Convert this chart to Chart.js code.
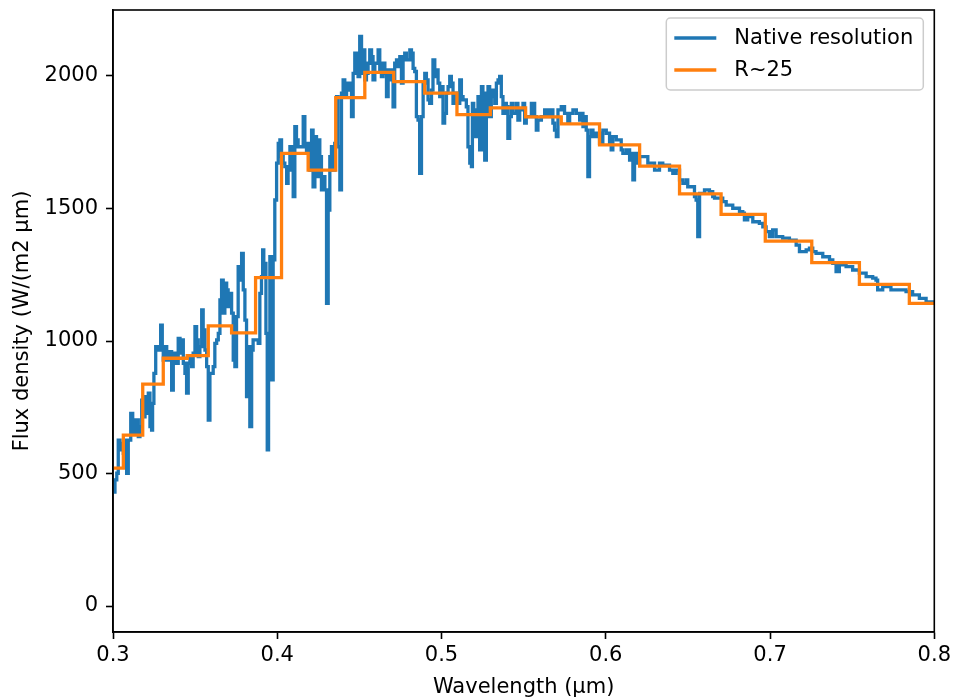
<!DOCTYPE html>
<html>
<head>
<meta charset="utf-8">
<script src="https://cdn.jsdelivr.net/npm/chart.js@4.4.1/dist/chart.umd.min.js"></script>
<style>
  html, body { margin: 0; padding: 0; background: #fff; }
  #wrap { width: 955px; height: 700px; }
</style>
</head>
<body>
<div id="wrap"><canvas id="spectrumChart" width="955" height="700"></canvas></div>
<script>
// native resolution spectrum
const nativeWavelength = [
  0.3000,0.3012,0.3023,0.3032,0.3043,0.3053,0.3063,0.3073,0.3083,0.3093,
  0.3108,0.3120,0.3128,0.3140,0.3154,0.3164,0.3175,0.3184,0.3195,0.3205,
  0.3215,0.3225,0.3235,0.3241,0.3249,0.3260,0.3280,0.3290,0.3300,0.3306,
  0.3316,0.3327,0.3336,0.3347,0.3357,0.3367,0.3377,0.3387,0.3397,0.3408,
  0.3418,0.3428,0.3438,0.3448,0.3458,0.3468,0.3479,0.3488,0.3499,0.3509,
  0.3519,0.3529,0.3540,0.3549,0.3560,0.3570,0.3580,0.3590,0.3610,0.3620,
  0.3631,0.3641,0.3651,0.3661,0.3671,0.3681,0.3692,0.3701,0.3712,0.3722,
  0.3732,0.3742,0.3752,0.3762,0.3773,0.3783,0.3793,0.3803,0.3813,0.3823,
  0.3833,0.3844,0.3853,0.3874,0.3884,0.3894,0.3904,0.3911,0.3918,0.3931,
  0.3939,0.3947,0.3955,0.3965,0.3975,0.3985,0.3996,0.4006,0.4016,0.4026,
  0.4036,0.4046,0.4057,0.4066,0.4077,0.4087,0.4097,0.4107,0.4117,0.4127,
  0.4148,0.4158,0.4168,0.4178,0.4188,0.4198,0.4209,0.4218,0.4229,0.4239,
  0.4249,0.4259,0.4269,0.4279,0.4290,0.4300,0.4310,0.4320,0.4330,0.4340,
  0.4350,0.4361,0.4370,0.4381,0.4391,0.4401,0.4411,0.4422,0.4431,0.4442,
  0.4452,0.4462,0.4472,0.4482,0.4492,0.4502,0.4513,0.4523,0.4533,0.4543,
  0.4553,0.4563,0.4574,0.4583,0.4594,0.4614,0.4624,0.4634,0.4644,0.4655,
  0.4665,0.4675,0.4695,0.4705,0.4715,0.4726,0.4735,0.4746,0.4756,0.4766,
  0.4776,0.4786,0.4807,0.4817,0.4827,0.4837,0.4847,0.4857,0.4867,0.4878,
  0.4888,0.4898,0.4908,0.4918,0.4928,0.4939,0.4948,0.4959,0.4969,0.4979,
  0.4989,0.4999,0.5009,0.5019,0.5030,0.5040,0.5050,0.5060,0.5070,0.5080,
  0.5091,0.5111,0.5121,0.5131,0.5151,0.5161,0.5172,0.5182,0.5188,0.5196,
  0.5202,0.5212,0.5222,0.5232,0.5243,0.5252,0.5263,0.5273,0.5283,0.5293,
  0.5303,0.5313,0.5324,0.5334,0.5344,0.5354,0.5364,0.5374,0.5384,0.5395,
  0.5404,0.5415,0.5425,0.5435,0.5456,0.5465,0.5476,0.5496,0.5506,0.5516,
  0.5536,0.5547,0.5567,0.5577,0.5587,0.5608,0.5628,0.5648,0.5658,0.5678,
  0.5688,0.5699,0.5709,0.5729,0.5749,0.5769,0.5780,0.5800,0.5821,0.5841,
  0.5851,0.5861,0.5871,0.5881,0.5891,0.5901,0.5912,0.5922,0.5942,0.5962,
  0.5982,0.6003,0.6023,0.6033,0.6043,0.6064,0.6094,0.6104,0.6125,0.6145,
  0.6155,0.6165,0.6175,0.6195,0.6206,0.6226,0.6246,0.6256,0.6286,0.6297,
  0.6327,0.6347,0.6388,0.6408,0.6428,0.6449,0.6469,0.6490,0.6499,0.6520,
  0.6540,0.6550,0.6560,0.6571,0.6601,0.6631,0.6651,0.6662,0.6712,0.6733,
  0.6773,0.6814,0.6834,0.6844,0.6864,0.6895,0.6935,0.6956,0.6976,0.6996,
  0.7016,0.7037,0.7077,0.7118,0.7159,0.7179,0.7199,0.7220,0.7240,0.7260,
  0.7280,0.7321,0.7362,0.7382,0.7402,0.7422,0.7463,0.7503,0.7544,0.7585,
  0.7625,0.7645,0.7655,0.7686,0.7736,0.7787,0.7828,0.7868,0.7909,0.7950,
  0.7970,0.8000
];
const nativeFlux = [
  430,476,501,626,589,614,576,626,501,626,
  727,702,652,702,639,677,777,714,790,727,
  803,677,664,765,878,979,966,1060,966,928,
  979,954,928,960,815,928,954,916,1010,954,
  1004,916,878,803,916,941,903,954,1054,1004,
  941,979,1117,1042,966,903,702,878,903,991,
  1004,1029,1155,1230,1105,1218,1193,1130,1180,1105,
  928,903,1092,1281,1230,1331,1193,1079,790,979,
  677,966,1004,1004,991,1180,1243,1344,1293,1029,
  589,903,1318,853,1306,1532,1671,1746,1759,1696,
  1671,1658,1595,1645,1733,1671,1545,1809,1759,1733,
  1733,1847,1733,1708,1746,1645,1796,1582,1771,1620,
  1759,1696,1570,1620,1570,1142,1494,1696,1733,1645,
  1746,1922,1733,1570,1935,1985,1922,1960,1973,1947,
  1847,2010,2086,2023,1998,2149,2010,2098,1985,2010,
  2048,2098,2073,1985,2048,2098,2023,1998,2048,2010,
  1922,2023,1985,1884,2048,2061,2035,2073,1973,2073,
  2086,2061,2098,2086,2029,2017,1847,1834,1633,1847,
  1973,2010,1985,1910,1897,1947,2061,1998,2023,1973,
  1922,1960,1822,1859,1935,1960,1998,1973,1897,1935,
  1897,1985,1922,1910,1884,1733,1671,1658,1897,1847,
  1771,1872,1922,1721,1960,1935,1683,1922,1960,1847,
  1922,1947,1897,1973,1985,1998,1922,1859,1897,1884,
  1765,1847,1897,1859,1897,1834,1872,1897,1822,1847,
  1847,1897,1847,1796,1834,1847,1872,1847,1872,1822,
  1796,1771,1872,1884,1859,1822,1859,1872,1859,1834,
  1859,1809,1847,1796,1620,1771,1796,1771,1784,1746,
  1796,1784,1746,1721,1771,1759,1721,1708,1721,1683,
  1708,1608,1708,1671,1696,1696,1696,1671,1671,1645,
  1671,1664,1645,1633,1645,1608,1595,1608,1582,1582,
  1545,1532,1394,1557,1570,1564,1545,1539,1526,1513,
  1501,1488,1482,1457,1469,1450,1444,1431,1413,1394,
  1419,1394,1388,1381,1362,1337,1337,1344,1350,1337,
  1331,1318,1306,1293,1262,1287,1281,1268,1256,1243,
  1237,1230,1193,1205,1193,1193,1186,1174,1161,1142,
  1148,1142
];

// R~25 binned spectrum: left edge of each bin and its value (last entry closes the final bin)
const binEdges = [
  0.3000,0.3063,0.3181,0.3306,0.3452,0.3580,0.3722,0.3868,0.4026,0.4188,
  0.4356,0.4533,0.4709,0.4898,0.5094,0.5297,0.5512,0.5729,0.5962,0.6206,
  0.6449,0.6702,0.6971,0.7254,0.7544,0.7848,0.8000
];
const binFlux = [
  520,645,837,935,945,1057,1031,1239,1708,1645,
  1918,2014,1979,1935,1854,1880,1846,1819,1740,1660,
  1555,1478,1377,1296,1214,1142,1142
];

const xTicks = [0.3, 0.4, 0.5, 0.6, 0.7, 0.8];
const yTicks = [0, 500, 1000, 1500, 2000];
const seriesNames = ['Native resolution', 'R~25'];
const seriesColors = ['#1f77b4', '#ff7f0e'];

const FONT = 'DejaVu Sans';
const FONT_SIZE = 21;

function toPoints(xs, ys) {
  return xs.map((x, i) => ({ x: x, y: ys[i] }));
}

// keep the axes box where the reference has it
const fixedArea = {
  id: 'fixedArea',
  afterLayout(chart) {
    const a = chart.chartArea;
    const dy = a.top - 10;
    if (dy !== 0) {
      a.top = 10;
      a.height = a.bottom - a.top;
      const y = chart.scales.y;
      y.top = 10;
      y.height = y.bottom - y.top;
      y.configure();
    }
  }
};

// top/right spines (matplotlib style box around the axes)
const frameBox = {
  id: 'frameBox',
  afterDatasetsDraw(chart) {
    const a = chart.chartArea;
    const ctx = chart.ctx;
    ctx.save();
    ctx.strokeStyle = '#000';
    ctx.lineWidth = 1.6;
    ctx.strokeRect(a.left, a.top, a.right - a.left, a.bottom - a.top);
    ctx.restore();
  }
};

// legend in the upper right corner, inside the axes
const cornerLegend = {
  id: 'cornerLegend',
  afterDraw(chart) {
    const a = chart.chartArea;
    const ctx = chart.ctx;
    const w = 257, h = 72;
    const x0 = a.right - 11 - w;
    const y0 = a.top + 8;
    ctx.save();
    ctx.beginPath();
    ctx.roundRect(x0, y0, w, h, 4);
    ctx.fillStyle = 'rgba(255,255,255,0.8)';
    ctx.fill();
    ctx.strokeStyle = '#cccccc';
    ctx.lineWidth = 1.5;
    ctx.stroke();

    ctx.font = FONT_SIZE + 'px "' + FONT + '"';
    ctx.textBaseline = 'middle';
    ctx.fillStyle = '#000';
    chart.data.datasets.forEach(ds => {
      const idx = seriesNames.indexOf(ds.label);
      const yy = y0 + 20 + idx * 32;
      ctx.beginPath();
      ctx.moveTo(x0 + 8, yy);
      ctx.lineTo(x0 + 50, yy);
      ctx.strokeStyle = ds.borderColor;
      ctx.lineWidth = 3.3;
      ctx.stroke();
      ctx.fillText(ds.label, x0 + 68, yy + 1);
    });
    ctx.restore();
  }
};

function renderChart() {
  const ctx = document.getElementById('spectrumChart').getContext('2d');

  new Chart(ctx, {
    type: 'line',
    data: {
      datasets: [
        {
          label: seriesNames[0],
          data: toPoints(nativeWavelength, nativeFlux),
          borderColor: seriesColors[0],
          borderWidth: 3.3,
          stepped: 'before',
          pointRadius: 0,
          fill: false,
          order: 1
        },
        {
          label: seriesNames[1],
          data: toPoints(binEdges, binFlux),
          borderColor: seriesColors[1],
          borderWidth: 3.3,
          stepped: 'before',
          pointRadius: 0,
          fill: false,
          order: 0
        }
      ]
    },
    options: {
      responsive: false,
      animation: false,
      layout: { padding: { top: 0, right: 20, left: 0, bottom: 0 } },
      plugins: {
        legend: { display: false },
        tooltip: { enabled: false }
      },
      scales: {
        x: {
          type: 'linear',
          min: 0.3,
          max: 0.8,
          afterBuildTicks: axis => { axis.ticks = xTicks.map(v => ({ value: v })); },
          afterFit: scale => { scale.height = 68; },
          grid: { drawOnChartArea: false, drawTicks: true, tickLength: 7, tickWidth: 1.6, tickColor: '#000' },
          border: { display: true, color: '#000', width: 1.6 },
          ticks: {
            color: '#000',
            padding: 4,
            maxRotation: 0,
            font: { family: FONT, size: FONT_SIZE },
            callback: v => v.toFixed(1)
          },
          title: {
            display: true,
            text: 'Wavelength (μm)',
            color: '#000',
            padding: { top: 0, bottom: 0 },
            font: { family: FONT, size: FONT_SIZE }
          }
        },
        y: {
          type: 'linear',
          min: -98,
          max: 2249,
          afterBuildTicks: axis => { axis.ticks = yTicks.map(v => ({ value: v })); },
          afterFit: scale => { scale.width = 113; },
          grid: { drawOnChartArea: false, drawTicks: true, tickLength: 7, tickWidth: 1.6, tickColor: '#000' },
          border: { display: true, color: '#000', width: 1.6 },
          ticks: {
            color: '#000',
            padding: 8,
            font: { family: FONT, size: FONT_SIZE },
            callback: v => String(v)
          },
          title: {
            display: true,
            text: 'Flux density (W/(m2 μm)',
            color: '#000',
            padding: { top: 10, bottom: 0 },
            font: { family: FONT, size: FONT_SIZE }
          }
        }
      }
    },
    plugins: [fixedArea, frameBox, cornerLegend]
  });
}

document.addEventListener('DOMContentLoaded', () => {
  renderChart();
});
</script>
</body>
</html>
